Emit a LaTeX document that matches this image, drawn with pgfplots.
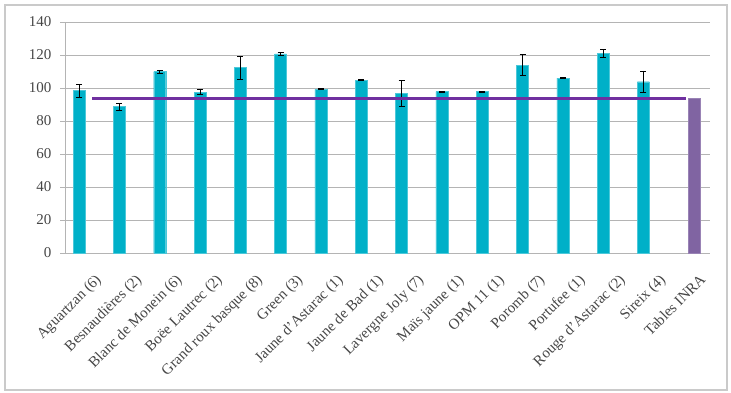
\documentclass[border=0pt]{standalone}
\usepackage{pgfplots}
\pgfplotsset{compat=1.18}
\usepackage{fontspec}
\setmainfont{Liberation Serif}
\definecolor{barteal}{RGB}{0,176,200}
\definecolor{barpurple}{RGB}{128,100,162}
\definecolor{linepurple}{RGB}{112,48,160}
\definecolor{gridgray}{RGB}{180,180,180}
\definecolor{txtgray}{RGB}{70,70,70}
\begin{document}
\begin{tikzpicture}
\begin{axis}[
  scale only axis,
  width=645pt, height=231pt,
  xmin=-0.5, xmax=15.5,
  ymin=0, ymax=140,
  ytick={0,20,...,140},
  ymajorgrids,
  grid style={gridgray, line width=0.8pt},
  axis x line*=bottom,
  axis y line*=left,
  axis line style={gridgray, line width=0.8pt},
  x axis line style={-},
  y axis line style={-},
  xtick={0,...,15},
  xticklabels={Aguartzan (6),Besnaudières (2),Blanc de Monein (6),Boëe Lautrec (2),Grand roux basque (8),Green (3),Jaune d'Astarac (1),Jaune de Bad (1),Lavergne Joly (7),Maïs jaune (1),OPM 11 (1),Poromb (7),Portufee (1),Rouge d'Astarac (2),Sireix (4),Tables INRA},
  extra x ticks={-0.5,0.5,...,15.5},
  extra x tick labels={},
  extra x tick style={major tick length=6pt, tick style={gridgray, line width=0.8pt}, grid=none},
  xtick style={draw=none},
  major tick length=5pt,
  ytick style={gridgray, line width=0.8pt},
  ytick align=outside,
  xtick align=outside,
  tick label style={font=\fontsize{15}{17}\selectfont, text=txtgray},
  yticklabel style={xshift=-5pt},
  xticklabel style={rotate=45, anchor=north east, inner sep=0pt, yshift=-17pt, xshift=-4pt},
  /pgf/number format/assume math mode=true,
  clip=false,
]
\addplot[ybar, bar width=12pt, bar shift=0pt, fill=barteal, draw=barteal!70,
  error bars/.cd, y dir=both, y explicit,
  error bar style={black, line width=0.8pt},
  error mark options={black, mark size=3pt, line width=0.8pt, rotate=90}]
coordinates {
 (-0.15,98.4) +- (0,4)
 (0.85,88.7) +- (0,2)
 (1.85,109.9) +- (0,1)
 (2.85,97.4) +- (0,1.5)
 (3.85,112.3) +- (0,7)
 (4.85,120.6) +- (0,1)
 (5.85,99.2) +- (0,0.3)
 (6.85,104.8) +- (0,0.3)
 (7.85,96.8) +- (0,8)
 (8.85,97.8) +- (0,0.3)
 (9.85,97.8) +- (0,0.3)
 (10.85,113.9) +- (0,6.5)
 (11.85,106.0) +- (0,0.3)
 (12.85,121.0) +- (0,2.5)
 (13.85,103.8) +- (0,6.5)
};
\addplot[ybar, bar width=12pt, bar shift=0pt, fill=barpurple, draw=barpurple!80]
coordinates {(15.12,93.7)};
\addplot[linepurple, line width=2.8pt] coordinates {(0.17,93.7) (14.91,93.7)};
\draw[gridgray!70, line width=1.5pt] (rel axis cs:-0.093,-0.593) rectangle (rel axis cs:1.026,1.074);
\useasboundingbox (rel axis cs:-0.1008,-0.606) rectangle (rel axis cs:1.0326,1.0952);
\end{axis}
\end{tikzpicture}
\end{document}
